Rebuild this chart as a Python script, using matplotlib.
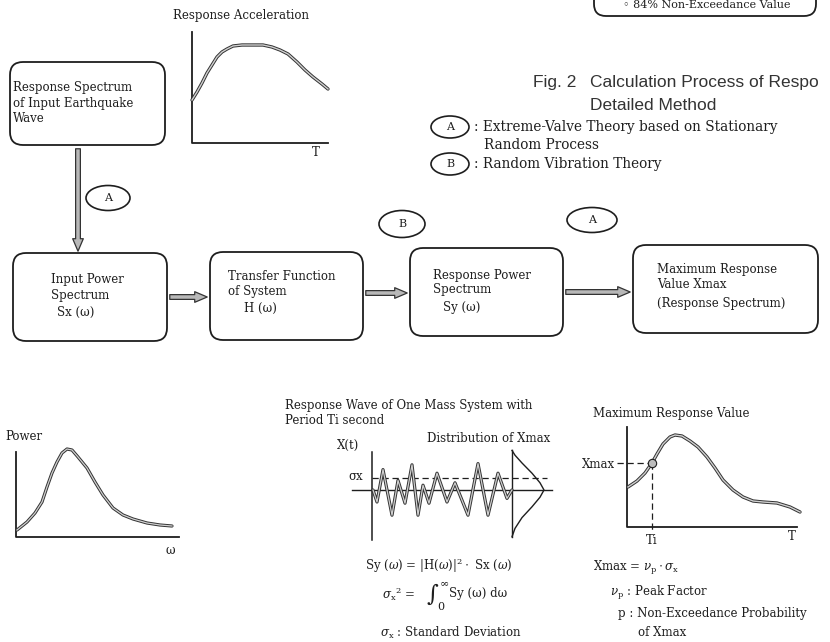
import matplotlib
matplotlib.use("Agg")
import matplotlib.pyplot as plt
from matplotlib.patches import FancyBboxPatch, Ellipse, FancyArrowPatch

W, H = 830, 642

# response spectrum of the input earthquake wave (period, acceleration)
acc_T = [0.0, 0.5, 1.0, 1.5, 2.0, 2.5, 3.0, 3.5, 4.1, 5.0, 6.1, 7.1, 8.0,
         8.8, 9.6, 10.5, 11.3, 12.1, 13.0, 13.6]
acc_S = [4.3, 5.1, 6.0, 7.0, 7.8, 8.6, 9.1, 9.4, 9.7, 9.8, 9.8, 9.8, 9.6,
         9.3, 8.9, 8.1, 7.3, 6.6, 5.9, 5.4]

# input power spectrum (omega, power)
pow_w = [0.1, 1.1, 1.9, 2.6, 3.1, 3.6, 4.1, 4.6, 5.1, 5.6, 6.2, 7.1, 7.9,
         8.7, 9.7, 10.7, 11.7, 13.1, 14.4, 15.6]
pow_P = [0.7, 1.5, 2.4, 3.5, 5.0, 6.4, 7.5, 8.4, 8.8, 8.7, 8.0, 6.9, 5.5,
         4.2, 2.9, 2.2, 1.8, 1.4, 1.2, 1.1]

# response wave of the one mass system, amplitude in sigma_x units
wave_t = [0.1, 0.5, 1.1, 2.0, 2.6, 3.3, 4.0, 4.6, 5.1, 5.7, 6.5, 7.5, 8.3,
          9.6, 10.6, 11.6, 12.6, 13.5, 14.0]
wave_x = [0, -1.0, 1.7, -2.1, 0.8, -1.1, 2.1, -2.1, 0.4, -1.1, 1.4, -1.0, 0.6,
          -2.1, 2.2, -2.1, 1.4, -0.7, 0]

# distribution of xmax, drawn sideways at the end of the record
dist_t = [14.0, 14.3, 15.0, 16.0, 16.8, 17.2, 16.8, 16.0, 15.0, 14.3, 14.0]
dist_x = [3.3, 2.9, 2.25, 1.4, 0.6, 0, -0.6, -1.4, -2.3, -3.2, -3.9]

# maximum response value against period
max_T = [0.1, 1.0, 1.8, 2.5, 3.0, 3.6, 4.3, 4.8, 5.5, 6.3, 7.1, 8.0, 8.8,
         9.6, 10.6, 11.6, 12.6, 13.6, 15.0, 16.3, 17.3]
max_V = [4.0, 4.6, 5.4, 6.4, 7.3, 8.3, 9.0, 9.2, 9.1, 8.6, 8.0, 7.0, 5.9,
         4.7, 3.7, 3.0, 2.6, 2.5, 2.4, 2.0, 1.5]
Ti, Xmax = 2.5, 6.4

INK = "#1e1e1e"
plt.rcParams["font.family"] = ["DejaVu Serif", "DejaVu Sans"]
plt.rcParams["mathtext.fontset"] = "dejavuserif"
plt.rcParams["font.size"] = 8.5

fig = plt.figure(figsize=(W / 100, H / 100), dpi=100)
ax = fig.add_axes([0, 0, 1, 1])
ax.set_xlim(0, W)
ax.set_ylim(H, 0)
ax.axis("off")


def txt(x, y, s, **kw):
    kw.setdefault("ha", "left")
    kw.setdefault("va", "center")
    kw.setdefault("color", INK)
    ax.text(x, y, s, **kw)


def rbox(x0, y0, x1, y1, r=13):
    ax.add_patch(FancyBboxPatch((x0, y0), x1 - x0, y1 - y0,
                                boxstyle=f"round,pad=0,rounding_size={r}",
                                fc="none", ec=INK, lw=1.3))


def oval(cx, cy, w, h, label):
    ax.add_patch(Ellipse((cx, cy), w, h, fc="none", ec=INK, lw=1.2))
    txt(cx, cy, label, ha="center", fontsize=8)


def arrow(p0, p1):
    ax.add_patch(FancyArrowPatch(
        p0, p1, arrowstyle="simple,head_length=1.0,head_width=0.85,tail_width=0.38",
        mutation_scale=9, fc="#b8b8b8", ec="#333333", lw=0.9))


def hollow(a, x, y, lw=1.0):
    a.plot(x, y, color="#333333", lw=lw + 1.4, solid_joinstyle="round",
           solid_capstyle="round", clip_on=False)
    a.plot(x, y, color="#d0d0d0", lw=lw, solid_joinstyle="round", clip_on=False)


def inset(x0, y0, x1, y1, ox, oy, sx=10, sy=10):
    a = fig.add_axes([x0 / W, 1 - y1 / H, (x1 - x0) / W, (y1 - y0) / H])
    a.set_xlim((x0 - ox) / sx, (x1 - ox) / sx)
    a.set_ylim((oy - y1) / sy, (oy - y0) / sy)
    a.axis("off")
    return a


# --- top right: remains of previous box and caption
rbox(594, -40, 816, 16, r=12)
txt(623, 5, "◦ 84% Non-Exceedance Value", fontsize=8)
sans = dict(family="Liberation Sans", fontsize=12.5, color="#333333")
txt(533, 82, "Fig. 2", **sans)
txt(590, 82, "Calculation Process of Respo", **sans)
txt(590, 106, "Detailed Method", **sans)

# --- legend of the theories
oval(450, 127, 38, 22, "A")
txt(474, 127, ": Extreme-Valve Theory based on Stationary", fontsize=9.8)
txt(484, 145, "Random Process", fontsize=9.8)
oval(450, 164, 38, 22, "B")
txt(474, 164, ": Random Vibration Theory", fontsize=9.8)

# --- flow boxes
rbox(10, 62, 165, 145)
for i, s in enumerate(["Response Spectrum", "of Input Earthquake", "Wave"]):
    txt(13, 88 + 15 * i, s)

rbox(13, 253, 167, 341)
txt(51, 280, "Input Power")
txt(51, 296, "Spectrum")
txt(57, 312, "Sx (ω)")

rbox(210, 252, 363, 340)
txt(228, 277, "Transfer Function")
txt(228, 292, "of System")
txt(244, 308, "H (ω)")

rbox(410, 248, 563, 336)
txt(433, 275, "Response Power")
txt(433, 290, "Spectrum")
txt(443, 308, "Sy (ω)")

rbox(633, 245, 818, 333)
txt(657, 270, "Maximum Response")
txt(657, 285, "Value Xmax")
txt(657, 303, "(Response Spectrum)")

arrow((78, 146), (78, 254))
arrow((167, 297), (210, 297))
arrow((363, 293), (410, 293))
arrow((563, 292), (633, 292))

oval(108, 198, 44, 25, "A")
oval(402, 224, 46, 27, "B")
oval(592, 220, 50, 25, "A")

# --- response acceleration sketch
txt(173, 15, "Response Acceleration")
a1 = inset(180, 25, 340, 150, 192, 143)
a1.plot([0, 0, 13.6], [11.1, 0, 0], color=INK, lw=1.3, clip_on=False)
hollow(a1, acc_T, acc_S)
txt(312, 153, "T")

# --- input power spectrum sketch
txt(5, 437, "Power")
a2 = inset(5, 445, 190, 545, 16, 537)
a2.plot([0, 0, 16.3], [8.5, 0, 0], color=INK, lw=1.3, clip_on=False)
hollow(a2, pow_w, pow_P, lw=0.9)
txt(170, 551, "ω", ha="center")

# --- response wave sketch
txt(285, 405, "Response Wave of One Mass System with")
txt(285, 421, "Period Ti second")
txt(337, 445, "X(t)")
txt(427, 438, "Distribution of Xmax")
txt(348, 477, "σx")
a3 = inset(340, 440, 560, 545, 372, 490, sx=10, sy=12)
a3.plot([0, 0], [3.2, -4.2], color=INK, lw=1.1)
a3.plot([-2.0, 18.0], [0, 0], color=INK, lw=1.0)
a3.plot([0, 17.5], [1, 1], color=INK, lw=0.9, ls=(0, (5, 3)))
a3.plot([dist_t[0], dist_t[-1]], [dist_x[0], dist_x[-1]], color=INK, lw=1.0)
a3.plot(dist_t, dist_x, color=INK, lw=1.0)
hollow(a3, wave_t, wave_x, lw=0.9)

txt(365, 566, r"Sy ($\omega$) = |H($\omega$)|$^2\cdot$ Sx ($\omega$)")
txt(382, 594, r"$\sigma_{\mathrm{x}}{}^2$ =")
txt(426, 596, r"$\int_{0}^{\infty}$", fontsize=11.5)
txt(449, 594, "Sy (ω) dω")
txt(380, 633, r"$\sigma_{\mathrm{x}}$ : Standard Deviation")

# --- maximum response value sketch
txt(593, 413, "Maximum Response Value")
a4 = inset(600, 420, 815, 548, 627, 527)
a4.plot([0, 0, 17.0], [10.0, 0, 0], color=INK, lw=1.3, clip_on=False)
hollow(a4, max_T, max_V)
a4.plot([-1.0, Ti], [Xmax, Xmax], color=INK, lw=0.9, ls=(0, (5, 3)))
a4.plot([Ti, Ti], [Xmax, -0.6], color=INK, lw=0.9, ls=(0, (5, 3)))
a4.plot([Ti], [Xmax], "o", ms=6, mfc="#bdbdbd", mec=INK, mew=0.8)
txt(615, 465, "Xmax", ha="right")
txt(652, 540, "Ti", ha="center")
txt(792, 537, "T", ha="center")

txt(593, 568, r"Xmax = $\nu_{\mathrm{p}}\cdot\sigma_{\mathrm{x}}$")
txt(610, 593, r"$\nu_{\mathrm{p}}$ : Peak Factor")
txt(618, 613, "p : Non-Exceedance Probability")
txt(638, 632, "of Xmax")

fig.savefig("out.png", dpi=100, facecolor="white")
